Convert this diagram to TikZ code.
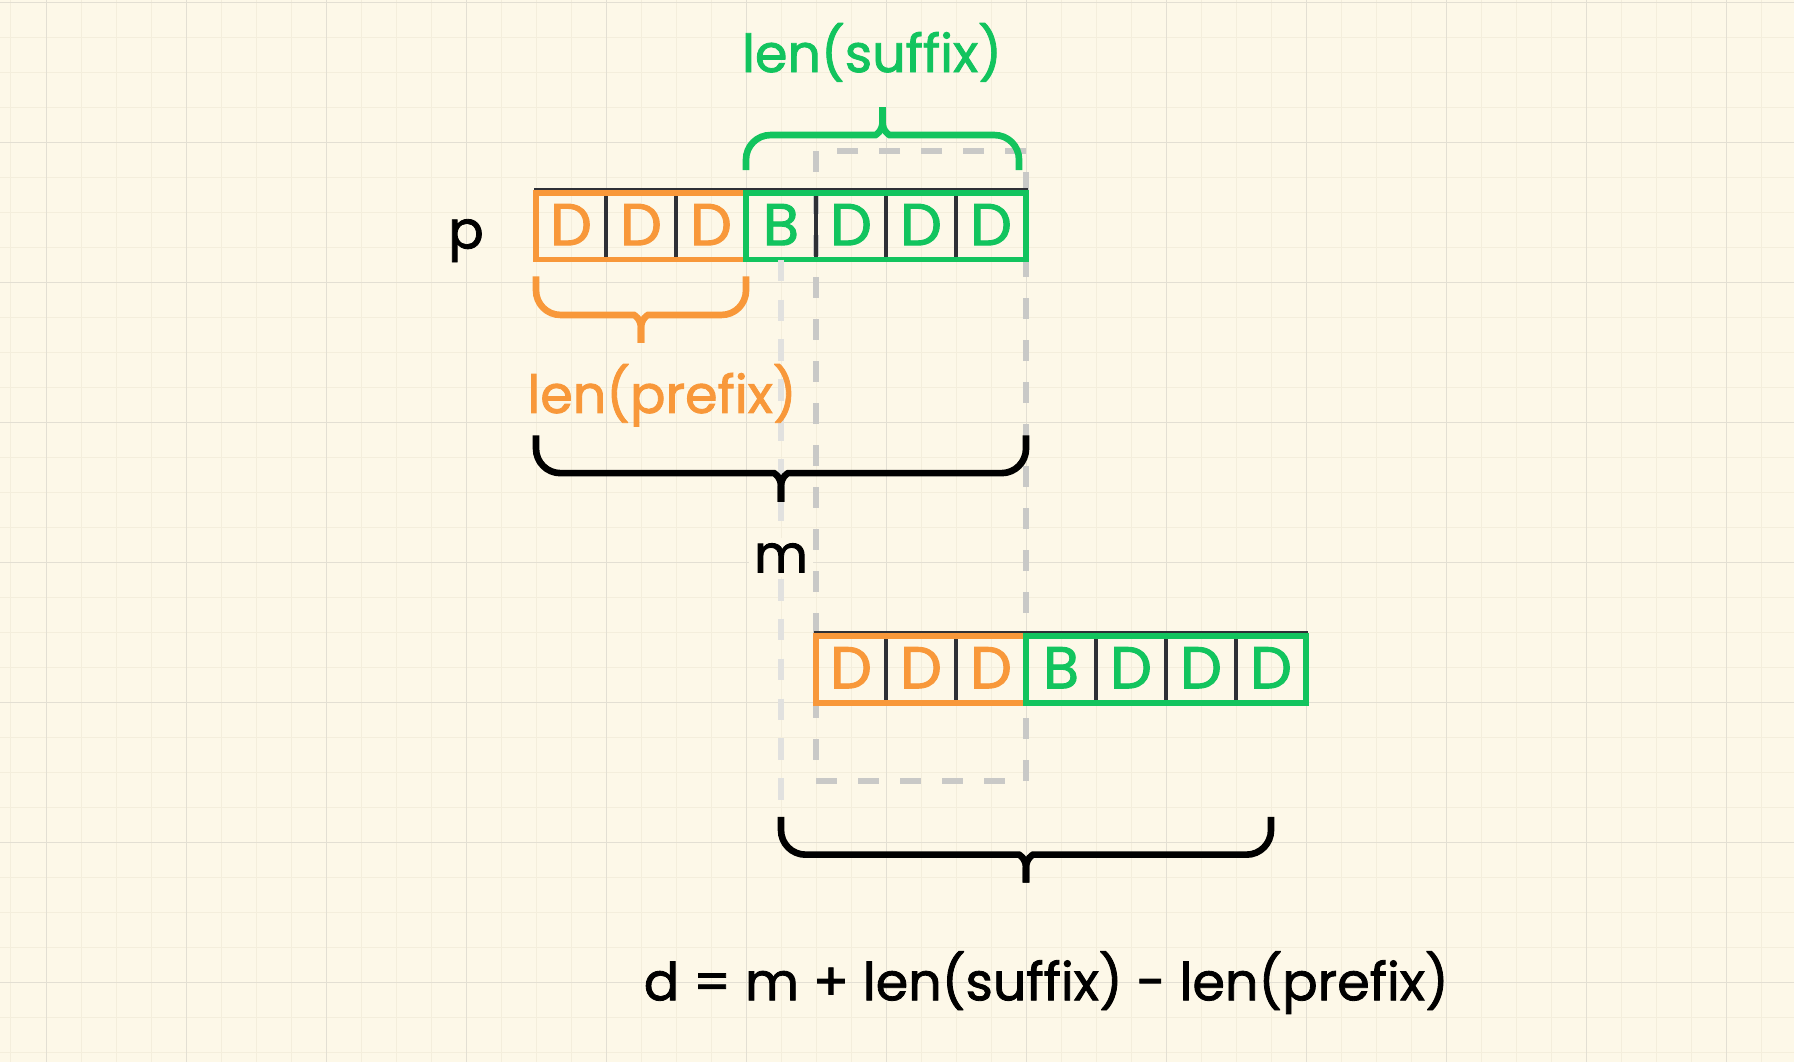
\documentclass[tikz,border=0pt]{standalone}
\usepackage{fontspec}
\setmainfont{Poppins}[FakeBold=1.6]
\usetikzlibrary{calc}
\definecolor{paper}{HTML}{FDF8E8}
\definecolor{gridmajor}{HTML}{E3DFD3}
\definecolor{gridminor}{HTML}{F4EEDC}
\definecolor{prefixcol}{HTML}{F8983A}
\definecolor{suffixcol}{HTML}{12C45E}
\definecolor{divider}{HTML}{2E3036}
\definecolor{dashdark}{HTML}{C9C9C7}
\definecolor{dashlight}{HTML}{E1E1DF}

\begin{document}
\begin{tikzpicture}[x=1cm, y=-1cm,
    cell/.style={rectangle, draw=divider, line width=1.3pt, minimum size=1cm, inner sep=0pt, outer sep=0pt, font=\fontsize{24}{28}\selectfont},
    prefixbox/.style={draw=prefixcol, line width=2.3pt},
    suffixbox/.style={draw=suffixcol, line width=2.3pt},
    curly/.style={line width=2.7pt},
    guide/.style={draw=dashdark, line width=2.6pt, dash pattern=on 0.3cm off 0.3cm},
    faint/.style={draw=dashlight, line width=2.6pt, dash pattern=on 0.31cm off 0.26cm},
    lbl/.style={font=\fontsize{21.3}{25}\selectfont, inner sep=0pt, anchor=base}
]

% paper and grid
\fill[paper] (-0.657,-0.039) rectangle (24.971,15.13);
\useasboundingbox (-0.657,-0.039) rectangle (24.971,15.13);
\foreach \x in {-0.5,0,...,24.5} \draw[gridminor, line width=0.4pt] (\x,-0.039) -- (\x,15.13);
\foreach \y in {0,0.5,...,15} \draw[gridminor, line width=0.4pt] (-0.657,\y) -- (24.971,\y);
\foreach \x in {0,2,...,24} \draw[gridmajor, line width=0.4pt] (\x,-0.039) -- (\x,15.13);
\foreach \y in {0,2,...,14} \draw[gridmajor, line width=0.4pt] (-0.657,\y) -- (24.971,\y);

% overlap window
\draw[guide] (11,2.12) rectangle (14,11.12);

% p
\foreach \i in {1,2,3} \node[cell, text=prefixcol] (p\i) at (6.5+\i,3.17) {D};
\node[cell, text=suffixcol] (p4) at (10.5,3.17) {B};
\foreach \i in {5,6,7} \node[cell, text=suffixcol] (p\i) at (6.5+\i,3.17) {D};
\draw[prefixbox] ($(p1.north west)+(0,0.05)$) rectangle (p3.south east);
\draw[suffixbox] ($(p4.north west)+(0,0.05)$) rectangle (p7.south east);

% shifted copy
\foreach \i in {1,2,3} \node[cell, text=prefixcol] (s\i) at (10.5+\i,9.5) {D};
\node[cell, text=suffixcol] (s4) at (14.5,9.5) {B};
\foreach \i in {5,6,7} \node[cell, text=suffixcol] (s\i) at (10.5+\i,9.5) {D};
\draw[prefixbox] ($(s1.north west)+(0,0.05)$) rectangle (s3.south east);
\draw[suffixbox] ($(s4.north west)+(0,0.05)$) rectangle (s7.south east);

\coordinate (bstart) at (10.5,11.63);
\draw[faint] (p4.south) -- (bstart);

% braces
\draw[curly, suffixcol] (10,2.39) [rounded corners=0.35cm] |- (11.5,1.89) [sharp corners] .. controls (11.85,1.89) and (11.95,1.84) .. (11.95,1.7) -- (11.95,1.49);
\draw[curly, suffixcol] (13.9,2.39) [rounded corners=0.35cm] |- (12.4,1.89) [sharp corners] .. controls (12.05,1.89) and (11.95,1.84) .. (11.95,1.7) -- (11.95,1.49);
\draw[curly, prefixcol] (7,3.91) [rounded corners=0.35cm] |- (8.05,4.46) [sharp corners] .. controls (8.4,4.46) and (8.5,4.51) .. (8.5,4.65) -- (8.5,4.86);
\draw[curly, prefixcol] (10,3.91) [rounded corners=0.35cm] |- (8.95,4.46) [sharp corners] .. controls (8.6,4.46) and (8.5,4.51) .. (8.5,4.65) -- (8.5,4.86);
\draw[curly] (7,6.18) [rounded corners=0.35cm] |- (10.05,6.72) [sharp corners] .. controls (10.4,6.72) and (10.5,6.77) .. (10.5,6.91) -- (10.5,7.13);
\draw[curly] (14,6.18) [rounded corners=0.35cm] |- (10.95,6.72) [sharp corners] .. controls (10.6,6.72) and (10.5,6.77) .. (10.5,6.91) -- (10.5,7.13);
\draw[curly] (bstart) [rounded corners=0.35cm] |- (13.55,12.17) [sharp corners] .. controls (13.9,12.17) and (14,12.22) .. (14,12.36) -- (14,12.57);
\draw[curly] (17.5,11.63) [rounded corners=0.35cm] |- (14.45,12.17) [sharp corners] .. controls (14.1,12.17) and (14,12.22) .. (14,12.36) -- (14,12.57);

% labels
\node[lbl] (plbl) at (6.0,3.51) {p};
\node[lbl, text=suffixcol] (suflbl) at (11.8,0.99) {len(suffix)};
\node[lbl, text=prefixcol] (prelbl) at (8.8,5.86) {len(prefix)};
\node[lbl, fill=paper, inner sep=2pt] (mlbl) at (10.5,8.14) {m};
\node[lbl] (formula) at (14.29,14.25) {d = m + len(suffix) - len(prefix)};

\end{tikzpicture}
\end{document}
